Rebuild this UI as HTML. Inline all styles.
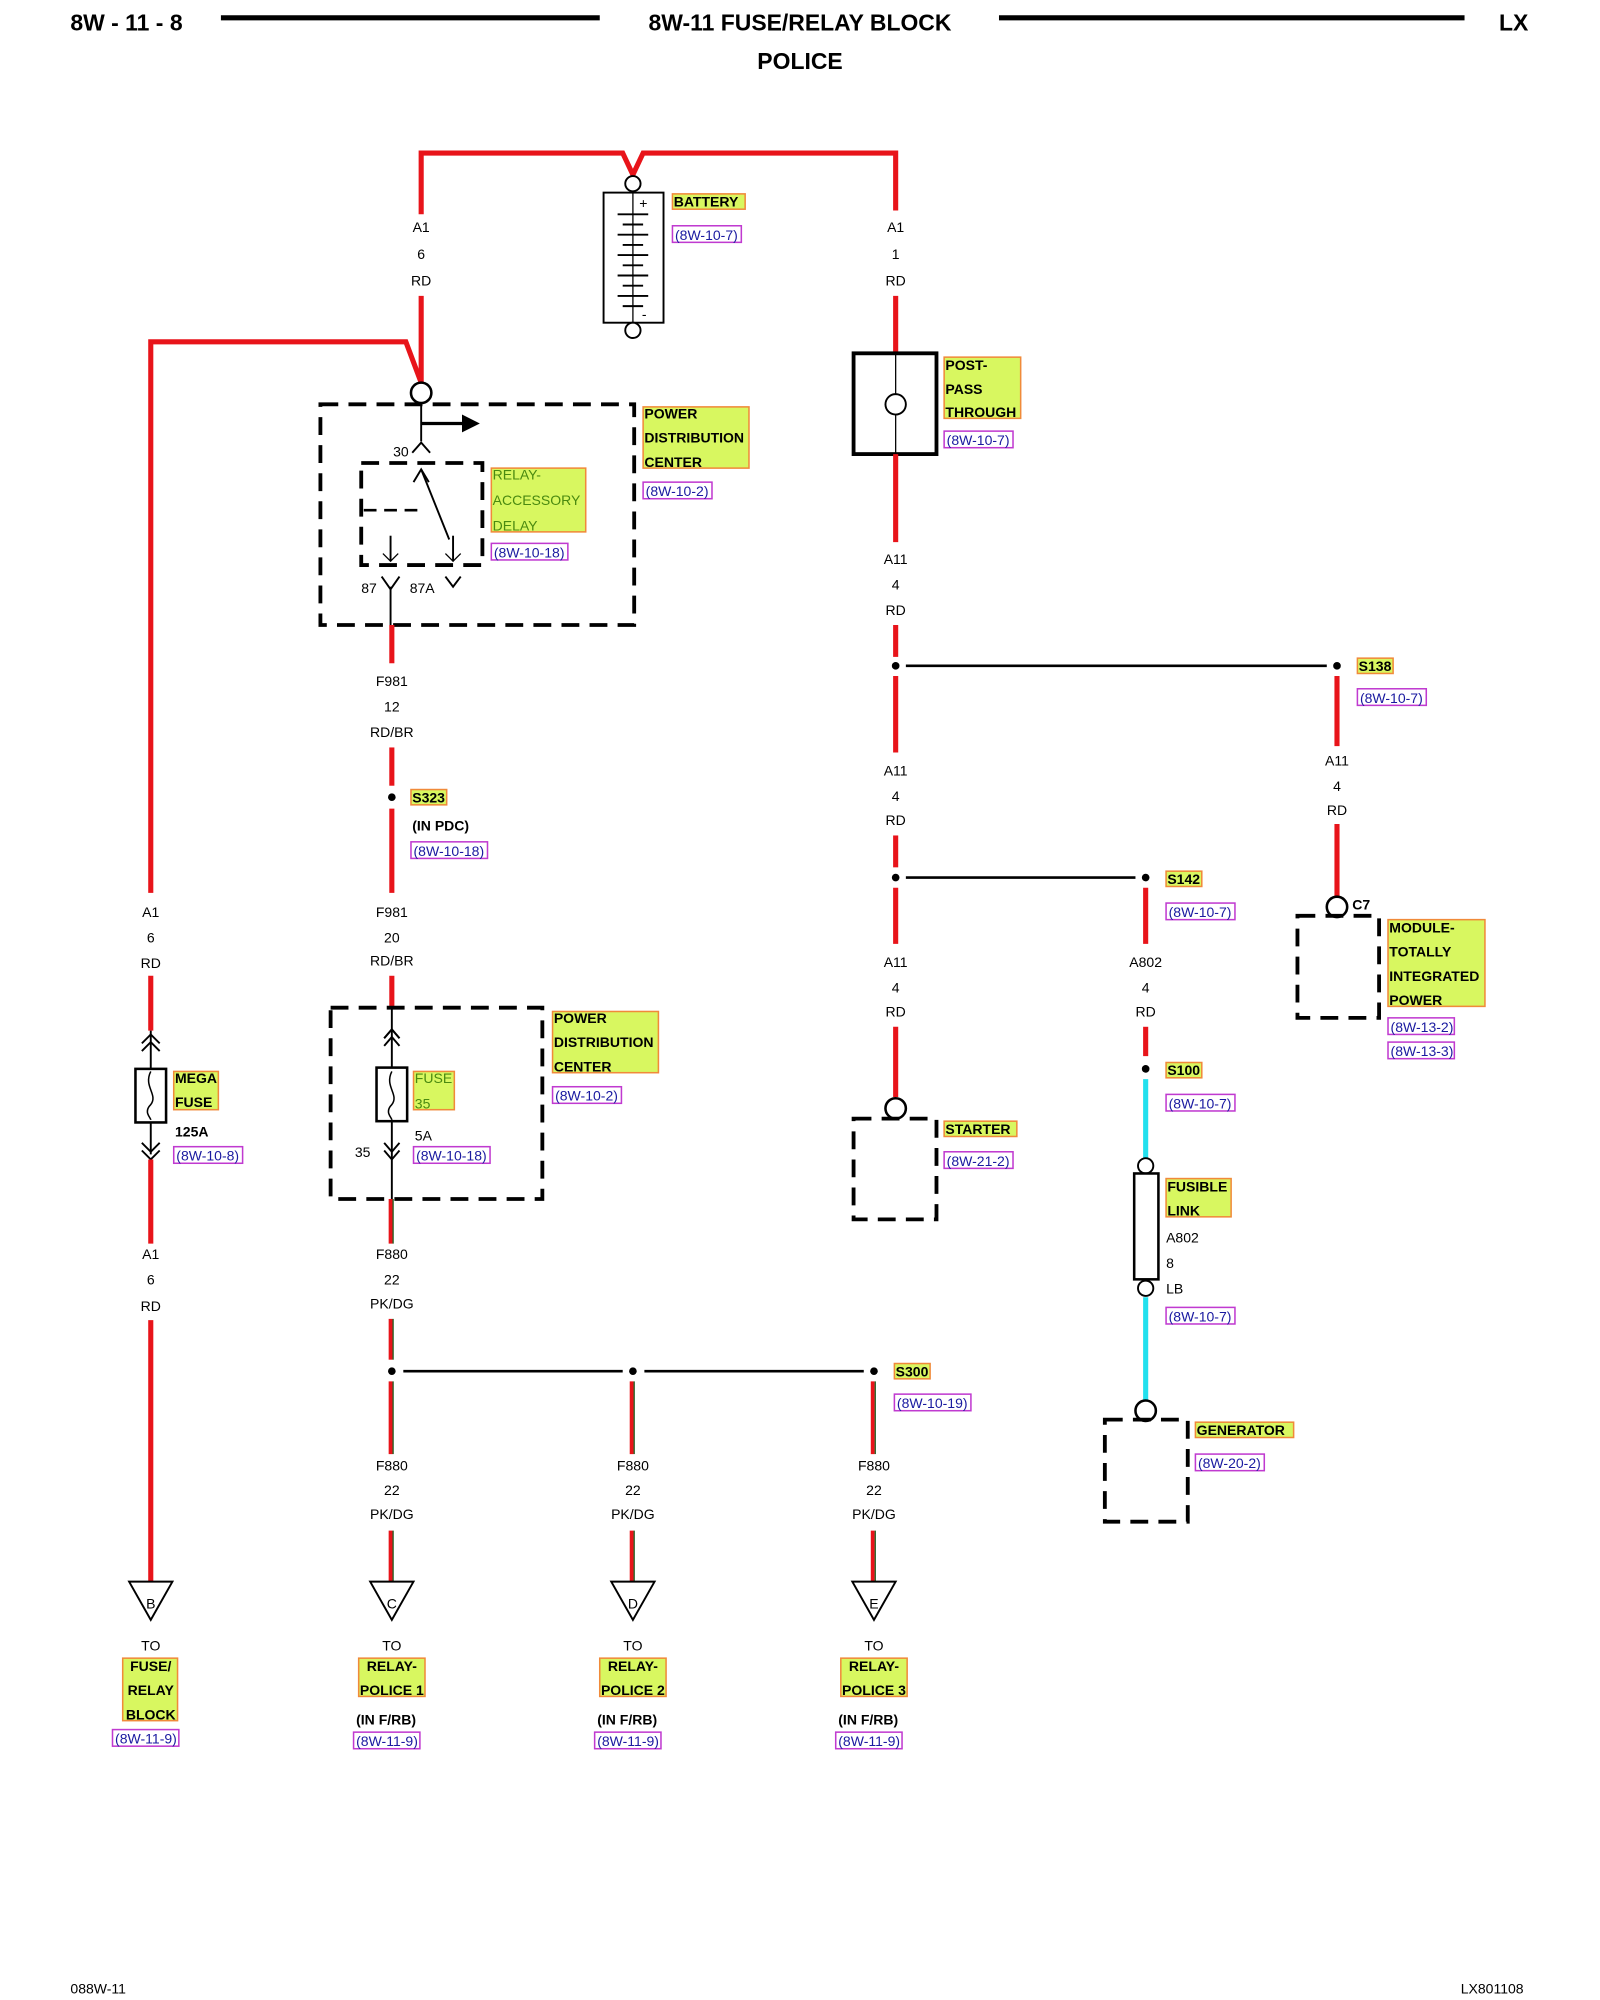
<!DOCTYPE html>
<html><head><meta charset="utf-8"><style>
html,body{margin:0;padding:0;background:#fff}
svg{display:block}
text{font-family:"Liberation Sans",sans-serif;font-size:11px;fill:#000}
.b{font-weight:bold}
.h{font-weight:bold;font-size:18px}
.c{text-anchor:middle}
.r{stroke:#e8141a;stroke-width:4;fill:none}
.k{stroke:#000;stroke-width:2;fill:none}
.d{stroke:#000;stroke-width:3;fill:none;stroke-dasharray:14 8}
.cy{stroke:#22e0ee;stroke-width:4;fill:none}
.hl{fill:#d8f760;stroke:#f08a3a;stroke-width:1.2}
.lk{fill:#fff;stroke:#c03ad0;stroke-width:1.2}
.lt{fill:#1a1aa0;font-size:11px}
.g{fill:#4a8a10}
</style></head><body>
<svg width="1600" height="2000" viewBox="0 0 1254 1568" xmlns="http://www.w3.org/2000/svg">
<!-- header -->
<text x="55" y="24" class="h">8W - 11 - 8</text>
<line x1="173" y1="14" x2="470" y2="14" stroke="#000" stroke-width="4"/>
<text x="627" y="24" class="h c">8W-11 FUSE/RELAY BLOCK</text>
<line x1="783" y1="14" x2="1148" y2="14" stroke="#000" stroke-width="4"/>
<text x="1175" y="24" class="h">LX</text>
<text x="627" y="54" class="h c">POLICE</text>

<!-- top red -->
<polyline class="r" points="330,168 330,120 488,120 496,137 504,120 702,120 702,165"/>
<polyline class="r" points="330,232 330,300"/>
<polyline class="r" points="118,700 118,268 318,268 330,300"/>
<g class="c"><text x="330" y="182">A1</text><text x="330" y="203">6</text><text x="330" y="224">RD</text>
<text x="702" y="182">A1</text><text x="702" y="203">1</text><text x="702" y="224">RD</text></g>

<!-- battery -->
<circle cx="496" cy="144" r="6" fill="#fff" stroke="#000" stroke-width="1.5"/>
<rect x="473" y="151" width="47" height="102" fill="#fff" stroke="#000" stroke-width="1.5"/>
<line x1="496" y1="151" x2="496" y2="253" stroke="#000"/>
<g stroke="#000" stroke-width="1.5">
<line x1="484" y1="168" x2="508" y2="168"/><line x1="488" y1="176" x2="504" y2="176"/>
<line x1="484" y1="184" x2="508" y2="184"/><line x1="488" y1="192" x2="504" y2="192"/>
<line x1="484" y1="200" x2="508" y2="200"/><line x1="488" y1="208" x2="504" y2="208"/>
<line x1="484" y1="216" x2="508" y2="216"/><line x1="488" y1="224" x2="504" y2="224"/>
<line x1="484" y1="232" x2="508" y2="232"/><line x1="488" y1="240" x2="504" y2="240"/></g>
<text x="501" y="163" font-size="12">+</text><text x="503" y="250">-</text>
<circle cx="496" cy="259" r="6" fill="#fff" stroke="#000" stroke-width="1.5"/>
<rect x="527" y="152" width="57" height="12" class="hl"/><text x="528" y="162" class="b">BATTERY</text>
<rect x="527" y="177" width="54" height="13" class="lk"/><text x="529" y="188" class="lt">(8W-10-7)</text>

<!-- post pass -->
<polyline class="r" points="702,232 702,277"/>
<rect x="669" y="277" width="65" height="79" fill="#fff" stroke="#000" stroke-width="3"/>
<line x1="702" y1="277" x2="702" y2="356" stroke="#000"/>
<circle cx="702" cy="317" r="8" fill="#fff" stroke="#000" stroke-width="1.5"/>
<rect x="740" y="280" width="60" height="48" class="hl"/>
<text x="741" y="290" class="b">POST-</text><text x="741" y="309" class="b">PASS</text><text x="741" y="327" class="b">THROUGH</text>
<rect x="740" y="338" width="54" height="13" class="lk"/><text x="742" y="349" class="lt">(8W-10-7)</text>
<polyline class="r" points="702,356 702,425"/>
<g class="c"><text x="702" y="442">A11</text><text x="702" y="462">4</text><text x="702" y="482">RD</text></g>
<polyline class="r" points="702,490 702,515"/>
<circle cx="702" cy="522" r="3"/><line x1="710" y1="522" x2="1040" y2="522" class="k" stroke-width="2.5"/><circle cx="1048" cy="522" r="3"/>
<rect x="1064" y="516" width="28" height="12" class="hl"/><text x="1065" y="526" class="b">S138</text>
<rect x="1064" y="540" width="54" height="13" class="lk"/><text x="1066" y="551" class="lt">(8W-10-7)</text>
<polyline class="r" points="702,530 702,590"/>
<g class="c"><text x="702" y="608">A11</text><text x="702" y="628">4</text><text x="702" y="647">RD</text></g>
<polyline class="r" points="702,655 702,680"/>
<circle cx="702" cy="688" r="3"/><line x1="710" y1="688" x2="890" y2="688" class="k" stroke-width="2.5"/><circle cx="898" cy="688" r="3"/>
<rect x="914" y="683" width="28" height="12" class="hl"/><text x="915" y="693" class="b">S142</text>
<rect x="914" y="708" width="54" height="13" class="lk"/><text x="916" y="719" class="lt">(8W-10-7)</text>
<polyline class="r" points="702,696 702,740"/>
<g class="c"><text x="702" y="778">4</text><text x="702" y="758">A11</text><text x="702" y="797">RD</text></g>
<polyline class="r" points="702,805 702,860"/>
<circle cx="702" cy="869" r="8" fill="#fff" stroke="#000" stroke-width="2"/>
<rect x="669" y="877" width="65" height="79" class="d"/>
<rect x="740" y="879" width="57" height="12" class="hl"/><text x="741" y="889" class="b">STARTER</text>
<rect x="740" y="903" width="54" height="13" class="lk"/><text x="742" y="914" class="lt">(8W-21-2)</text>

<!-- S138 branch -->
<polyline class="r" points="1048,530 1048,585"/>
<g class="c"><text x="1048" y="600">A11</text><text x="1048" y="620">4</text><text x="1048" y="639">RD</text></g>
<polyline class="r" points="1048,646 1048,703"/>
<circle cx="1048" cy="711" r="8" fill="#fff" stroke="#000" stroke-width="2"/>
<text x="1060" y="713" class="b">C7</text>
<rect x="1017" y="718" width="64" height="80" class="d"/>
<rect x="1088" y="721" width="76" height="68" class="hl"/>
<text x="1089" y="731" class="b">MODULE-</text><text x="1089" y="750" class="b">TOTALLY</text><text x="1089" y="769" class="b">INTEGRATED</text><text x="1089" y="788" class="b">POWER</text>
<rect x="1088" y="798" width="52" height="13" class="lk"/><text x="1090" y="809" class="lt">(8W-13-2)</text>
<rect x="1088" y="817" width="52" height="13" class="lk"/><text x="1090" y="828" class="lt">(8W-13-3)</text>

<!-- S142 branch -->
<polyline class="r" points="898,696 898,740"/>
<g class="c"><text x="898" y="758">A802</text><text x="898" y="778">4</text><text x="898" y="797">RD</text></g>
<polyline class="r" points="898,805 898,828"/>
<circle cx="898" cy="838" r="3"/>
<rect x="914" y="833" width="28" height="12" class="hl"/><text x="915" y="843" class="b">S100</text>
<rect x="914" y="858" width="54" height="13" class="lk"/><text x="916" y="869" class="lt">(8W-10-7)</text>
<polyline class="cy" points="898,846 898,908"/>
<circle cx="898" cy="914" r="6" fill="#fff" stroke="#000" stroke-width="1.5"/>
<rect x="889" y="920" width="19" height="83" fill="#fff" stroke="#000" stroke-width="2"/>
<circle cx="898" cy="1010" r="6" fill="#fff" stroke="#000" stroke-width="1.5"/>
<rect x="914" y="924" width="51" height="30" class="hl"/><text x="915" y="934" class="b">FUSIBLE</text><text x="915" y="953" class="b">LINK</text>
<text x="914" y="974">A802</text><text x="914" y="994">8</text><text x="914" y="1014">LB</text>
<rect x="914" y="1025" width="54" height="13" class="lk"/><text x="916" y="1036" class="lt">(8W-10-7)</text>
<polyline class="cy" points="898,1017 898,1098"/>
<circle cx="898" cy="1106" r="8" fill="#fff" stroke="#000" stroke-width="2"/>
<rect x="866" y="1113" width="65" height="80" class="d"/>
<rect x="937" y="1115" width="77" height="12" class="hl"/><text x="938" y="1125" class="b">GENERATOR</text>
<rect x="937" y="1140" width="54" height="13" class="lk"/><text x="939" y="1151" class="lt">(8W-20-2)</text>

<!-- PDC 1 -->
<circle cx="330" cy="308" r="8" fill="#fff" stroke="#000" stroke-width="2"/>
<rect x="251" y="317" width="246" height="173" class="d"/>
<line x1="330" y1="316" x2="330" y2="346" stroke="#000" stroke-width="1.5"/>
<line x1="330" y1="332" x2="365" y2="332" stroke="#000" stroke-width="2.5"/>
<polygon points="362,325 376,332 362,339"/>
<polyline points="323,355 330,347 337,355" fill="none" stroke="#000" stroke-width="1.5"/>
<text x="308" y="358">30</text>
<rect x="283" y="363" width="95" height="80" class="d" stroke-width="2.5" stroke-dasharray="10 6"/>
<line x1="330" y1="368" x2="352" y2="423" stroke="#000" stroke-width="1.5"/>
<polyline points="324,378 330,368 336,378" fill="none" stroke="#000" stroke-width="1.5"/>
<line x1="285" y1="400" x2="330" y2="400" stroke="#000" stroke-width="2" stroke-dasharray="10 6"/>
<line x1="306" y1="420" x2="306" y2="440" stroke="#000" stroke-width="1.5"/><polyline points="300,434 306,440 312,434" fill="none" stroke="#000"/>
<line x1="355" y1="420" x2="355" y2="440" stroke="#000" stroke-width="1.5"/><polyline points="349,434 355,440 361,434" fill="none" stroke="#000"/>
<polyline points="299,452 306,462 313,452" fill="none" stroke="#000" stroke-width="1.5"/>
<polyline points="349,452 355,460 361,452" fill="none" stroke="#000" stroke-width="1.5"/>
<text x="283" y="465">87</text><text x="321" y="465">87A</text>
<line x1="306" y1="460" x2="306" y2="490" stroke="#000" stroke-width="1.5"/>
<rect x="385" y="367" width="74" height="50" class="hl"/>
<text x="386" y="376" class="g">RELAY-</text><text x="386" y="396" class="g">ACCESSORY</text><text x="386" y="416" class="g">DELAY</text>
<rect x="385" y="426" width="60" height="13" class="lk"/><text x="387" y="437" class="lt">(8W-10-18)</text>
<rect x="504" y="319" width="83" height="48" class="hl"/>
<text x="505" y="328" class="b">POWER</text><text x="505" y="347" class="b">DISTRIBUTION</text><text x="505" y="366" class="b">CENTER</text>
<rect x="504" y="378" width="54" height="13" class="lk"/><text x="506" y="389" class="lt">(8W-10-2)</text>

<polyline class="r" points="307,490 307,520"/>
<g class="c"><text x="307" y="538">F981</text><text x="307" y="558">12</text><text x="307" y="578">RD/BR</text></g>
<polyline class="r" points="307,586 307,616"/>
<circle cx="307" cy="625" r="3"/>
<polyline class="r" points="307,634 307,700"/>
<rect x="322" y="619" width="28" height="12" class="hl"/><text x="323" y="629" class="b">S323</text>
<text x="323" y="651" class="b">(IN PDC)</text>
<rect x="322" y="660" width="60" height="13" class="lk"/><text x="324" y="671" class="lt">(8W-10-18)</text>
<g class="c"><text x="307" y="719">F981</text><text x="307" y="739">20</text><text x="307" y="757">RD/BR</text></g>
<polyline class="r" points="307,765 307,790"/>

<!-- PDC 2 -->
<rect x="259" y="790" width="166" height="150" class="d"/>
<line x1="307" y1="790" x2="307" y2="940" stroke="#000" stroke-width="1.5"/>
<polyline points="301,814 307,807 313,814 M301,820 307,813 313,820" fill="none" stroke="#000" stroke-width="1.5"/>
<path d="M301,814 307,807 313,814 M301,820 307,813 313,820 M301,896 307,903 313,896 M301,902 307,909 313,902" fill="none" stroke="#000" stroke-width="1.5"/>
<rect x="295" y="837" width="24" height="42" fill="#fff" stroke="#000" stroke-width="2"/>
<path d="M307,840 C301,852 313,858 307,866 C301,872 307,876 307,878" fill="none" stroke="#000" stroke-width="1.2"/>
<text x="278" y="907">35</text><text x="325" y="894">5A</text>
<rect x="324" y="840" width="32" height="30" class="hl"/><text x="325" y="849" class="g">FUSE</text><text x="325" y="869" class="g">35</text>
<rect x="324" y="899" width="60" height="13" class="lk"/><text x="326" y="910" class="lt">(8W-10-18)</text>
<rect x="433" y="793" width="83" height="48" class="hl"/>
<text x="434" y="802" class="b">POWER</text><text x="434" y="821" class="b">DISTRIBUTION</text><text x="434" y="840" class="b">CENTER</text>
<rect x="433" y="852" width="54" height="13" class="lk"/><text x="435" y="863" class="lt">(8W-10-2)</text>

<!-- F880 stripes -->
<g>
<line x1="306" y1="940" x2="306" y2="975" stroke="#e8141a" stroke-width="3"/><line x1="308" y1="940" x2="308" y2="975" stroke="#1a5a1a" stroke-width="1"/>
<line x1="306" y1="1034" x2="306" y2="1066" stroke="#e8141a" stroke-width="3"/><line x1="308" y1="1034" x2="308" y2="1066" stroke="#1a5a1a" stroke-width="1"/>
<line x1="306" y1="1083" x2="306" y2="1140" stroke="#e8141a" stroke-width="3"/><line x1="308" y1="1083" x2="308" y2="1140" stroke="#1a5a1a" stroke-width="1"/>
<line x1="306" y1="1200" x2="306" y2="1240" stroke="#e8141a" stroke-width="3"/><line x1="308" y1="1200" x2="308" y2="1240" stroke="#1a5a1a" stroke-width="1"/>
<line x1="495" y1="1083" x2="495" y2="1140" stroke="#e8141a" stroke-width="3"/><line x1="497" y1="1083" x2="497" y2="1140" stroke="#1a5a1a" stroke-width="1"/>
<line x1="495" y1="1200" x2="495" y2="1240" stroke="#e8141a" stroke-width="3"/><line x1="497" y1="1200" x2="497" y2="1240" stroke="#1a5a1a" stroke-width="1"/>
<line x1="684" y1="1083" x2="684" y2="1140" stroke="#e8141a" stroke-width="3"/><line x1="686" y1="1083" x2="686" y2="1140" stroke="#1a5a1a" stroke-width="1"/>
<line x1="684" y1="1200" x2="684" y2="1240" stroke="#e8141a" stroke-width="3"/><line x1="686" y1="1200" x2="686" y2="1240" stroke="#1a5a1a" stroke-width="1"/>
</g>
<g class="c"><text x="307" y="987">F880</text><text x="307" y="1007">22</text><text x="307" y="1026">PK/DG</text></g>
<circle cx="307" cy="1075" r="3"/><line x1="316" y1="1075" x2="488" y2="1075" class="k" stroke-width="2.5"/>
<circle cx="496" cy="1075" r="3"/><line x1="505" y1="1075" x2="677" y2="1075" class="k" stroke-width="2.5"/>
<circle cx="685" cy="1075" r="3"/>
<rect x="701" y="1069" width="28" height="12" class="hl"/><text x="702" y="1079" class="b">S300</text>
<rect x="701" y="1093" width="60" height="13" class="lk"/><text x="703" y="1104" class="lt">(8W-10-19)</text>
<g class="c">
<text x="307" y="1153">F880</text><text x="307" y="1172">22</text><text x="307" y="1191">PK/DG</text>
<text x="496" y="1153">F880</text><text x="496" y="1172">22</text><text x="496" y="1191">PK/DG</text>
<text x="685" y="1153">F880</text><text x="685" y="1172">22</text><text x="685" y="1191">PK/DG</text>
</g>

<!-- mega fuse -->
<polyline class="r" points="118,700 118,700"/>
<g class="c"><text x="118" y="719">A1</text><text x="118" y="739">6</text><text x="118" y="759">RD</text></g>
<polyline class="r" points="118,765 118,808"/>
<line x1="118" y1="808" x2="118" y2="905" stroke="#000" stroke-width="1.5"/>
<path d="M111,818 118,811 125,818 M111,824 118,817 125,824 M111,896 118,903 125,896 M111,902 118,909 125,902" fill="none" stroke="#000" stroke-width="1.5"/>
<rect x="106" y="838" width="24" height="42" fill="#fff" stroke="#000" stroke-width="2"/>
<path d="M118,840 C112,852 124,858 118,866 C112,872 118,876 118,878" fill="none" stroke="#000" stroke-width="1.2"/>
<rect x="136" y="840" width="35" height="30" class="hl"/><text x="137" y="849" class="b">MEGA</text><text x="137" y="868" class="b">FUSE</text>
<text x="137" y="891" class="b">125A</text>
<rect x="136" y="899" width="54" height="13" class="lk"/><text x="138" y="910" class="lt">(8W-10-8)</text>
<polyline class="r" points="118,909 118,975"/>
<g class="c"><text x="118" y="987">A1</text><text x="118" y="1007">6</text><text x="118" y="1028">RD</text></g>
<polyline class="r" points="118,1035 118,1240"/>

<!-- connectors -->
<g fill="#fff" stroke="#000" stroke-width="1.5">
<polygon points="101,1240 135,1240 118,1270"/>
<polygon points="290,1240 324,1240 307,1270"/>
<polygon points="479,1240 513,1240 496,1270"/>
<polygon points="668,1240 702,1240 685,1270"/>
</g>
<g class="c" font-size="12">
<text x="118" y="1261">B</text><text x="307" y="1261">C</text><text x="496" y="1261">D</text><text x="685" y="1261">E</text>
<text x="118" y="1294">TO</text><text x="307" y="1294">TO</text><text x="496" y="1294">TO</text><text x="685" y="1294">TO</text>
</g>
<rect x="96" y="1300" width="43" height="49" class="hl"/>
<text x="118" y="1310" class="b c">FUSE/</text><text x="118" y="1329" class="b c">RELAY</text><text x="118" y="1348" class="b c">BLOCK</text>
<rect x="88" y="1356" width="52" height="13" class="lk"/><text x="90" y="1367" class="lt">(8W-11-9)</text>
<rect x="281" y="1300" width="52" height="30" class="hl"/>
<text x="307" y="1310" class="b c">RELAY-</text><text x="307" y="1329" class="b c">POLICE 1</text>
<text x="279" y="1352" class="b">(IN F/RB)</text>
<rect x="277" y="1358" width="52" height="13" class="lk"/><text x="279" y="1369" class="lt">(8W-11-9)</text>
<rect x="470" y="1300" width="52" height="30" class="hl"/>
<text x="496" y="1310" class="b c">RELAY-</text><text x="496" y="1329" class="b c">POLICE 2</text>
<text x="468" y="1352" class="b">(IN F/RB)</text>
<rect x="466" y="1358" width="52" height="13" class="lk"/><text x="468" y="1369" class="lt">(8W-11-9)</text>
<rect x="659" y="1300" width="52" height="30" class="hl"/>
<text x="685" y="1310" class="b c">RELAY-</text><text x="685" y="1329" class="b c">POLICE 3</text>
<text x="657" y="1352" class="b">(IN F/RB)</text>
<rect x="655" y="1358" width="52" height="13" class="lk"/><text x="657" y="1369" class="lt">(8W-11-9)</text>

<text x="55" y="1563" font-size="10">088W-11</text>
<text x="1145" y="1563" font-size="10">LX801108</text>
</svg>
</body></html>
